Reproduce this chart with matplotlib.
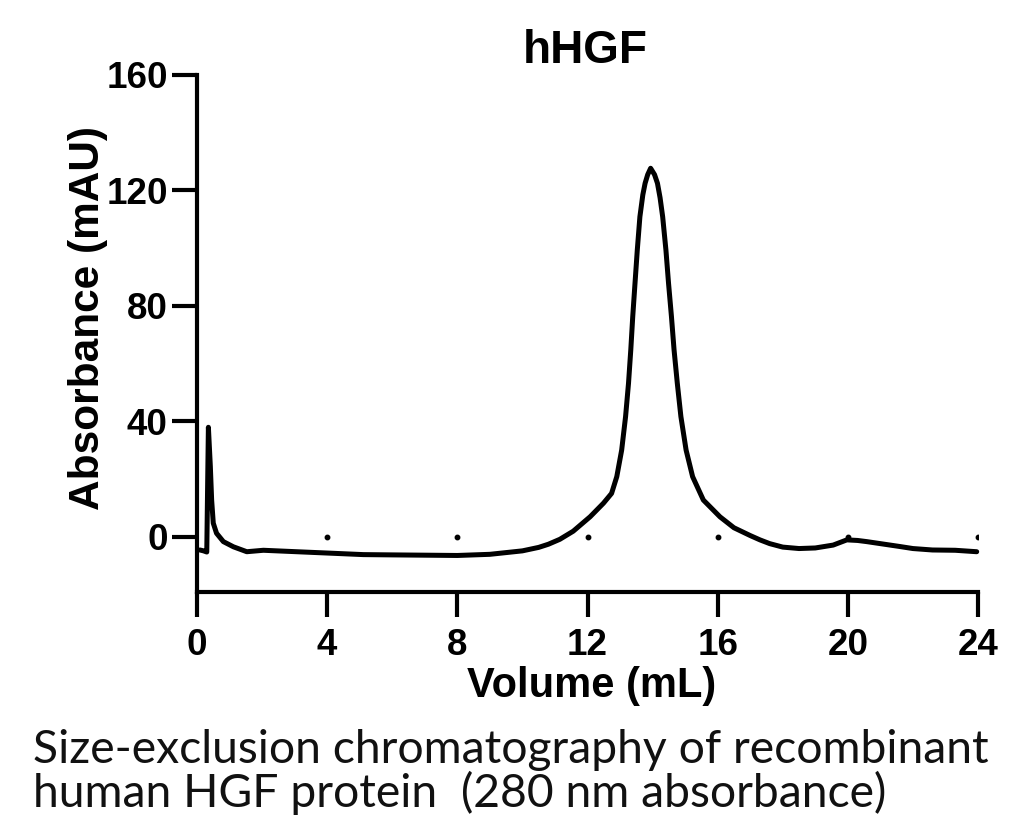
import matplotlib
matplotlib.use("Agg")
import matplotlib.pyplot as plt

# ---- data ----
volume_ml = [0.09, 0.20, 0.30, 0.35, 0.41, 0.45, 0.50, 0.60, 0.81, 1.12, 1.53,
             2.04, 3.06, 4.09, 5.11, 6.0, 7.0, 8.0, 9.0, 10.0, 10.5, 10.8,
             11.15, 11.56, 12.08, 12.49, 12.74, 12.90, 13.05, 13.17, 13.26,
             13.33, 13.39, 13.46, 13.53, 13.61, 13.70, 13.77, 13.85, 13.94,
             14.06, 14.15, 14.23, 14.31, 14.41, 14.49, 14.58, 14.66, 14.76,
             14.87, 15.03, 15.23, 15.56, 16.07, 16.5, 17.0, 17.3, 17.6, 18.0,
             18.5, 19.0, 19.55, 19.97, 20.3, 20.58, 21.0, 21.6, 22.0, 22.6,
             23.3, 23.96]
absorbance_mau = [-4.5, -4.8, -5.2, 38.0, 24.4, 12.8, 4.8, 1.3, -1.6, -3.4, -5.1,
                  -4.6, -5.1, -5.6, -6.1, -6.2, -6.3, -6.4, -6.0, -4.8, -3.6, -2.5,
                  -0.8, 2.0, 7.0, 11.7, 15.1, 20.9, 30.1, 41.7, 53.2,
                  64.8, 76.3, 87.9, 99.4, 110.9, 118.5, 122.5, 125.5, 127.7,
                  125.5, 122.5, 117.5, 110.9, 99.4, 87.9, 76.3, 64.8, 53.2,
                  41.7, 30.1, 20.9, 12.8, 7.0, 3.2, 0.5, -1.0, -2.3, -3.5,
                  -4.0, -3.8, -2.8, -1.0, -1.2, -1.6, -2.3, -3.3, -4.0, -4.5,
                  -4.6, -5.1]
zero_dot_x = [4, 8, 12, 16, 20, 24]
zero_dot_y = [0, 0, 0, 0, 0, 0]

x_ticks = [0, 4, 8, 12, 16, 20, 24]
y_ticks = [0, 40, 80, 120, 160]

title = "hHGF"
x_label = "Volume (mL)"
y_label = "Absorbance (mAU)"
caption_lines = ["Size-exclusion chromatography of recombinant",
                 "human HGF protein  (280 nm absorbance)"]

W, H = 1024, 833
fig = plt.figure(figsize=(W / 100, H / 100), dpi=100)
ax = fig.add_axes([197 / W, 1 - 592 / H, (978 - 197) / W, (592 - 75) / H])

bold = dict(family=["Liberation Sans", "DejaVu Sans"], weight="bold")

ax.plot(volume_ml, absorbance_mau, color="black", lw=3.6,
        solid_joinstyle="round", solid_capstyle="round", clip_on=False)
ax.plot(zero_dot_x, zero_dot_y, linestyle="none", marker="o", ms=3.2,
        color="black")

ax.set_xlim(0, 24)
ax.set_ylim(-19.05, 160)
ax.set_xticks(x_ticks)
ax.set_yticks(y_ticks)
ax.set_xticklabels([str(v) for v in x_ticks], fontsize=26.5, **bold)
ax.set_yticklabels([str(v) for v in y_ticks], fontsize=26.5, **bold)

for s in ("top", "right"):
    ax.spines[s].set_visible(False)
for s in ("left", "bottom"):
    ax.spines[s].set_linewidth(3)
    ax.spines[s].set_capstyle("projecting")
ax.tick_params(axis="both", direction="out", length=18, width=3, color="black")
ax.tick_params(axis="x", pad=8)
ax.tick_params(axis="y", pad=3)

fig.text(585 / W, 1 - 63 / H, title, ha="center", va="baseline",
         fontsize=33, **bold)
fig.text(592 / W, 1 - 697 / H, x_label, ha="center", va="baseline",
         fontsize=30, **bold)
fig.text(88 / W, 1 - 318 / H, y_label, ha="center", va="center",
         rotation=90, fontsize=30.5, **bold)

# caption, sized so the first line spans the same width as in the reference
cap_font = dict(family=["Lato", "DejaVu Sans"], weight="normal", color="#111111")
t1 = fig.text(33 / W, 1 - 763 / H, caption_lines[0], ha="left",
              va="baseline", fontsize=32, **cap_font)
t2 = fig.text(33 / W, 1 - 807 / H, caption_lines[1], ha="left",
              va="baseline", fontsize=32, **cap_font)
fig.canvas.draw()
r = fig.canvas.get_renderer()
w1 = t1.get_window_extent(r).width
fs = 32 * (990 - 33) / w1
t1.set_fontsize(fs)
t2.set_fontsize(fs)

fig.savefig("out.png", dpi=100)
